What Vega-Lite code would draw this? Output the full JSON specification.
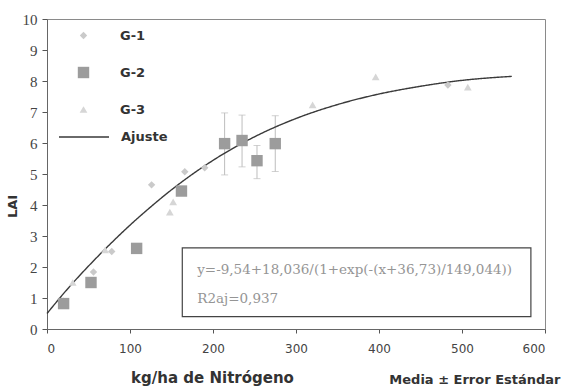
{
  "$schema": "https://vega.github.io/schema/vega-lite/v6.json",
  "autosize": {"type": "none"},
  "padding": {"left": 47, "top": 19, "right": 18, "bottom": 59},
  "width": 498,
  "height": 310,
  "background": "white",
  "config": {
    "view": {"stroke": "#8a8a8a", "strokeWidth": 1},
    "axis": {"grid": false, "domainColor": "#666", "tickColor": "#555", "labelColor": "#444", "titleColor": "#333"}
  },
  "title": {"text": "Media ± Error Estándar", "orient": "bottom", "anchor": "end", "fontSize": 13, "font": "DejaVu Sans", "fontWeight": "bold", "color": "#333", "offset": -11, "dx": 15},
  "datasets": {
    "pts": [
      {"x": 20, "y": 0.9, "g": "G-1"},
      {"x": 56, "y": 1.84, "g": "G-1"},
      {"x": 78, "y": 2.5, "g": "G-1"},
      {"x": 126, "y": 4.65, "g": "G-1"},
      {"x": 166, "y": 5.07, "g": "G-1"},
      {"x": 190, "y": 5.2, "g": "G-1"},
      {"x": 483, "y": 7.87, "g": "G-1"},
      {"x": 20, "y": 0.82, "g": "G-2", "lo": 0.72, "hi": 0.92},
      {"x": 53, "y": 1.5, "g": "G-2", "lo": 1.38, "hi": 1.62},
      {"x": 108, "y": 2.6, "g": "G-2", "lo": 2.5, "hi": 2.7},
      {"x": 162, "y": 4.45, "g": "G-2", "lo": 4.35, "hi": 4.55},
      {"x": 214, "y": 5.98, "g": "G-2", "lo": 4.97, "hi": 6.97},
      {"x": 235, "y": 6.08, "g": "G-2", "lo": 5.23, "hi": 6.9},
      {"x": 253, "y": 5.43, "g": "G-2", "lo": 4.85, "hi": 5.92},
      {"x": 275, "y": 5.98, "g": "G-2", "lo": 5.08, "hi": 6.88},
      {"x": 31, "y": 1.5, "g": "G-3"},
      {"x": 70, "y": 2.55, "g": "G-3"},
      {"x": 148, "y": 3.77, "g": "G-3"},
      {"x": 152, "y": 4.1, "g": "G-3"},
      {"x": 320, "y": 7.23, "g": "G-3"},
      {"x": 396, "y": 8.13, "g": "G-3"},
      {"x": 507, "y": 7.8, "g": "G-3"}
    ],
    "fit": [
      {"x": 0, "y": 0.5, "g": "Ajuste"},
      {"x": 25, "y": 1.3, "g": "Ajuste"},
      {"x": 50, "y": 2.03, "g": "Ajuste"},
      {"x": 75, "y": 2.71, "g": "Ajuste"},
      {"x": 100, "y": 3.35, "g": "Ajuste"},
      {"x": 125, "y": 3.94, "g": "Ajuste"},
      {"x": 150, "y": 4.49, "g": "Ajuste"},
      {"x": 175, "y": 4.99, "g": "Ajuste"},
      {"x": 200, "y": 5.44, "g": "Ajuste"},
      {"x": 250, "y": 6.2, "g": "Ajuste"},
      {"x": 300, "y": 6.79, "g": "Ajuste"},
      {"x": 350, "y": 7.24, "g": "Ajuste"},
      {"x": 400, "y": 7.58, "g": "Ajuste"},
      {"x": 450, "y": 7.83, "g": "Ajuste"},
      {"x": 500, "y": 8.02, "g": "Ajuste"},
      {"x": 560, "y": 8.15, "g": "Ajuste"}
    ],
    "notes": [
      {"t": "y=-9,54+18,036/(1+exp(-(x+36,73)/149,044))", "x": 181, "y": 1.9},
      {"t": "R2aj=0,937", "x": 181, "y": 0.97}
    ],
    "box": [{"x1": 163, "x2": 583, "y1": 0.4, "y2": 2.62}]
  },
  "encoding": {
    "x": {"type": "quantitative", "scale": {"domain": [0, 600], "nice": false},
      "axis": {"values": [0, 100, 200, 300, 400, 500, 600], "title": "kg/ha de Nitrógeno", "labelFont": "DejaVu Sans", "labelFontSize": 12, "labelPadding": 10, "tickSize": 4,
        "titleFont": "DejaVu Sans", "titleFontSize": 15, "titleFontWeight": "bold", "titleX": 165, "titleY": 53, "titleAnchor": "middle", "titleBaseline": "alphabetic"}},
    "y": {"type": "quantitative", "scale": {"domain": [0, 10], "nice": false},
      "axis": {"values": [0, 1, 2, 3, 4, 5, 6, 7, 8, 9, 10], "title": "LAI", "labelFont": "Liberation Serif", "labelFontSize": 15, "labelPadding": 5, "tickSize": 5,
        "titleFont": "DejaVu Sans", "titleFontSize": 13, "titleFontWeight": "bold", "titleY": 187, "titleX": -28}}
  },
  "layer": [
    {
      "data": {"name": "pts"},
      "transform": [{"filter": "datum.g === 'G-2' && datum.hi - datum.lo > 0.3"}],
      "mark": {"type": "errorbar", "ticks": {"size": 7, "color": "#bdbdbd"}, "rule": {"color": "#bdbdbd", "strokeWidth": 1}},
      "encoding": {"x": {"field": "x"}, "y": {"field": "lo", "type": "quantitative"}, "y2": {"field": "hi"}}
    },
    {
      "data": {"name": "fit"},
      "mark": {"type": "line", "strokeWidth": 1.4, "interpolate": "monotone", "color": "#3a3a3a"},
      "encoding": {"x": {"field": "x"}, "y": {"field": "y"},
        "strokeDash": {"field": "g", "type": "nominal", "title": null, "scale": {"range": [[1, 0]]},
          "legend": {"orient": "none", "legendX": 11, "legendY": 92, "symbolType": "stroke", "symbolSize": 2500, "symbolStrokeWidth": 1.4, "symbolStrokeColor": "#3a3a3a", "labelFont": "DejaVu Sans", "labelFontSize": 13, "labelFontWeight": "bold", "labelColor": "#333", "labelOffset": 11}}}
    },
    {
      "data": {"name": "pts"},
      "mark": {"type": "point", "filled": true, "opacity": 1},
      "encoding": {"x": {"field": "x"}, "y": {"field": "y"},
        "color": {"field": "g", "type": "nominal", "title": null, "scale": {"domain": ["G-1", "G-2", "G-3"], "range": ["#cacaca", "#9c9c9c", "#d6d6d6"]},
          "legend": {"orient": "none", "legendX": 30, "legendY": 10, "direction": "vertical", "labelFont": "DejaVu Sans", "labelFontSize": 13, "labelFontWeight": "bold", "labelColor": "#333", "labelOffset": 30, "rowPadding": 23}},
        "shape": {"field": "g", "type": "nominal", "title": null, "scale": {"domain": ["G-1", "G-2", "G-3"], "range": ["diamond", "square", "triangle-up"]}},
        "size": {"field": "g", "type": "nominal", "title": null, "scale": {"type": "ordinal", "domain": ["G-1", "G-2", "G-3"], "range": [55, 130, 60]}}}
    },
    {
      "data": {"name": "box"},
      "mark": {"type": "rect", "fill": "transparent", "stroke": "#444", "strokeWidth": 1.2},
      "encoding": {"x": {"field": "x1"}, "x2": {"field": "x2"}, "y": {"field": "y1"}, "y2": {"field": "y2"}}
    },
    {
      "data": {"name": "notes"},
      "mark": {"type": "text", "align": "left", "baseline": "middle", "font": "DejaVu Serif", "fontSize": 13.5, "color": "#959595"},
      "encoding": {"x": {"field": "x"}, "y": {"field": "y"}, "text": {"field": "t"}}
    }
  ]
}
